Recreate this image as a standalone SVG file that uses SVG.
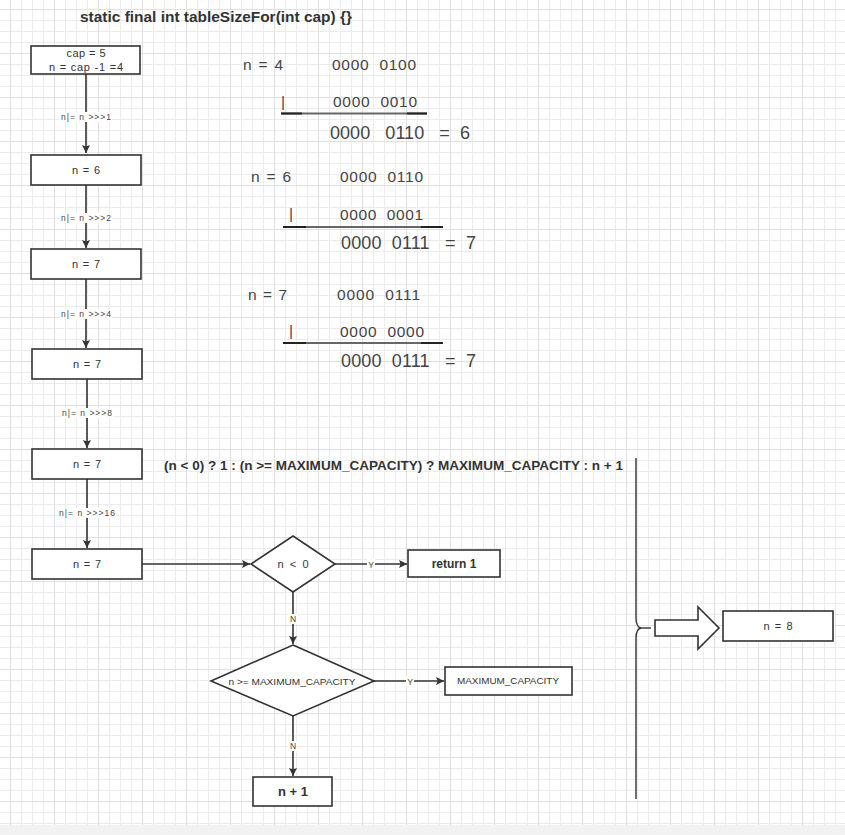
<svg xmlns="http://www.w3.org/2000/svg" width="845" height="835" viewBox="0 0 845 835">
<defs>
<pattern id="g" x="10" y="9" width="44" height="44" patternUnits="userSpaceOnUse">
<path d="M0 0.5H44M0 11.5H44M0 22.5H44M0 33.5H44M0.5 0V44M11.5 0V44M22.5 0V44M33.5 0V44" stroke="#ececec" stroke-width="1" fill="none"/>
<path d="M0 0.5H44M0.5 0V44" stroke="#e0e0e0" stroke-width="1" fill="none"/>
</pattern>
<marker id="ah" viewBox="0 0 10 10" refX="10" refY="5" markerWidth="8" markerHeight="8" markerUnits="userSpaceOnUse" orient="auto">
<path d="M0 0L10 5L0 10L2 5z" fill="#333"/>
</marker>
<style>
.box{fill:#fff;stroke:#333;stroke-width:1.6}
.t{font-family:"Liberation Sans",Arial,sans-serif;fill:#333;text-anchor:middle;dominant-baseline:central}
.bx{font-size:11px}
.lb{font-size:8.5px;fill:#444}
.e{fill:none;stroke:#333;stroke-width:1.6}
.lbg{fill:#fff}
.bin{font-family:"Liberation Sans",Arial,sans-serif;fill:#444;dominant-baseline:central;white-space:pre}
.b{font-weight:bold}
</style>
</defs>
<rect width="845" height="835" fill="#fff"/>
<rect width="845" height="825" fill="url(#g)"/>
<rect y="825" width="845" height="10" fill="#f2f2f2"/>

<text class="t b" x="216" y="16" font-size="15" textLength="272" lengthAdjust="spacingAndGlyphs">static final int tableSizeFor(int cap) {}</text>

<g id="connectors">
<path class="e" d="M86 74V153" marker-end="url(#ah)"/>
<path class="e" d="M86 185V248" marker-end="url(#ah)"/>
<path class="e" d="M86 279V348" marker-end="url(#ah)"/>
<path class="e" d="M87 379V448" marker-end="url(#ah)"/>
<path class="e" d="M87 479V548" marker-end="url(#ah)"/>
<path class="e" d="M142 564H250" marker-end="url(#ah)"/>
<path class="e" d="M335 564H407" marker-end="url(#ah)"/>
<path class="e" d="M293 592V644" marker-end="url(#ah)"/>
<path class="e" d="M374 681H444" marker-end="url(#ah)"/>
<path class="e" d="M293 716V776" marker-end="url(#ah)"/>
<rect class="lbg" x="60" y="112" width="52" height="10"/>
<text class="t lb" x="86" y="117" textLength="50">n|= n &gt;&gt;&gt;1</text>
<rect class="lbg" x="60" y="213" width="52" height="10"/>
<text class="t lb" x="86" y="218" textLength="50">n|= n &gt;&gt;&gt;2</text>
<rect class="lbg" x="60" y="309" width="52" height="10"/>
<text class="t lb" x="86" y="314" textLength="50">n|= n &gt;&gt;&gt;4</text>
<rect class="lbg" x="61" y="408" width="52" height="10"/>
<text class="t lb" x="87" y="413" textLength="50">n|= n &gt;&gt;&gt;8</text>
<rect class="lbg" x="58" y="508" width="58" height="10"/>
<text class="t lb" x="87" y="513" textLength="56">n|= n &gt;&gt;&gt;16</text>
<rect class="lbg" x="367" y="559" width="8" height="10"/>
<text class="t lb" x="371" y="565">Y</text>
<rect class="lbg" x="288" y="614" width="10" height="10"/>
<text class="t lb" x="293" y="619">N</text>
<rect class="lbg" x="406" y="676" width="8" height="10"/>
<text class="t lb" x="410" y="682">Y</text>
<rect class="lbg" x="288" y="741" width="10" height="10"/>
<text class="t lb" x="293" y="746">N</text>
</g>

<g id="n0"><rect class="box" x="31" y="46" width="109" height="28"/>
<text class="t bx" x="86" y="53" textLength="39">cap = 5</text><text class="t bx" x="86" y="67" textLength="74">n = cap -1 =4</text></g>
<g id="n1"><rect class="box" x="31" y="155" width="110" height="30"/><text class="t bx" x="86" y="170" textLength="28">n = 6</text></g>
<g id="n2"><rect class="box" x="31" y="249" width="110" height="30"/><text class="t bx" x="86" y="264" textLength="28">n = 7</text></g>
<g id="n3"><rect class="box" x="32" y="349" width="110" height="30"/><text class="t bx" x="87" y="364" textLength="28">n = 7</text></g>
<g id="n4"><rect class="box" x="32" y="449" width="110" height="30"/><text class="t bx" x="87" y="464" textLength="28">n = 7</text></g>
<g id="n5"><rect class="box" x="32" y="549" width="110" height="30"/><text class="t bx" x="87" y="564" textLength="28">n = 7</text></g>

<g id="d1"><path class="box" d="M293 536L335 564L293 592L251 564Z"/><text class="t bx" x="293" y="564" textLength="31">n &lt; 0</text></g>
<g id="r1"><rect class="box" x="408" y="550" width="92" height="27"/><text class="t b" font-size="12" x="454" y="563.5">return 1</text></g>
<g id="d2"><path class="box" d="M293 645L374 681L293 716L211 681Z"/><text class="t" font-size="9" x="292" y="682" textLength="127" lengthAdjust="spacingAndGlyphs">n &gt;= MAXIMUM_CAPACITY</text></g>
<g id="r2"><rect class="box" x="445" y="667" width="127" height="28"/><text class="t" font-size="9.5" x="508" y="680" textLength="102" lengthAdjust="spacingAndGlyphs">MAXIMUM_CAPACITY</text></g>
<g id="r3"><rect class="box" x="253" y="777" width="79" height="29"/><text class="t b" font-size="13" x="293" y="791">n + 1</text></g>

<text class="t b" x="393.5" y="465" font-size="13.5" textLength="459" lengthAdjust="spacingAndGlyphs">(n &lt; 0) ? 1 : (n &gt;= MAXIMUM_CAPACITY) ? MAXIMUM_CAPACITY : n + 1</text>

<g id="brace">
<path d="M636 458V618Q636 627 641 628Q636 629 636 638V799" fill="none" stroke="#333" stroke-width="1.4"/>
<path d="M641 628H651" stroke="#333" stroke-width="1.4"/>
</g>
<g id="bigarrow"><path class="box" d="M655 620H698V607L719 628L698 649V636H655Z"/></g>
<g id="n8"><rect class="box" x="723" y="611" width="110" height="30"/><text class="t bx" x="778" y="626" textLength="29">n = 8</text></g>

<g id="binary">
<text class="bin" x="243" y="64" font-size="15.5" textLength="40">n = 4</text>
<text class="bin" x="332" y="64" font-size="15.5" textLength="84" xml:space="preserve">0000  0100</text>
<text class="bin" x="281" y="101" font-size="15.5">|</text>
<text class="bin" x="333" y="101" font-size="15.5" textLength="84" xml:space="preserve">0000  0010</text>
<path d="M281 113.5H427" stroke="#666" stroke-width="2"/>
<path d="M281 113.5H302M407 113.5H427" stroke="#222" stroke-width="2"/>
<text class="bin" x="330" y="133" font-size="18" textLength="140" xml:space="preserve">0000   0110   =  6</text>

<text class="bin" x="251" y="176" font-size="15.5" textLength="40">n = 6</text>
<text class="bin" x="340" y="176" font-size="15.5" textLength="83" xml:space="preserve">0000  0110</text>
<text class="bin" x="289" y="213" font-size="15.5">|</text>
<text class="bin" x="340" y="214" font-size="15.5" textLength="83" xml:space="preserve">0000  0001</text>
<path d="M283 227H443" stroke="#666" stroke-width="2"/>
<path d="M283 227H306M421 227H443" stroke="#222" stroke-width="2"/>
<text class="bin" x="341" y="243" font-size="18" textLength="135" xml:space="preserve">0000  0111   =  7</text>

<text class="bin" x="248" y="294" font-size="15.5" textLength="39">n = 7</text>
<text class="bin" x="337" y="294" font-size="15.5" textLength="83" xml:space="preserve">0000  0111</text>
<text class="bin" x="289" y="330" font-size="15.5">|</text>
<text class="bin" x="340" y="331" font-size="15.5" textLength="84" xml:space="preserve">0000  0000</text>
<path d="M283 343H443" stroke="#666" stroke-width="2"/>
<path d="M283 343H306M421 343H443" stroke="#222" stroke-width="2"/>
<text class="bin" x="341" y="361" font-size="18" textLength="135" xml:space="preserve">0000  0111   =  7</text>
</g>
</svg>
